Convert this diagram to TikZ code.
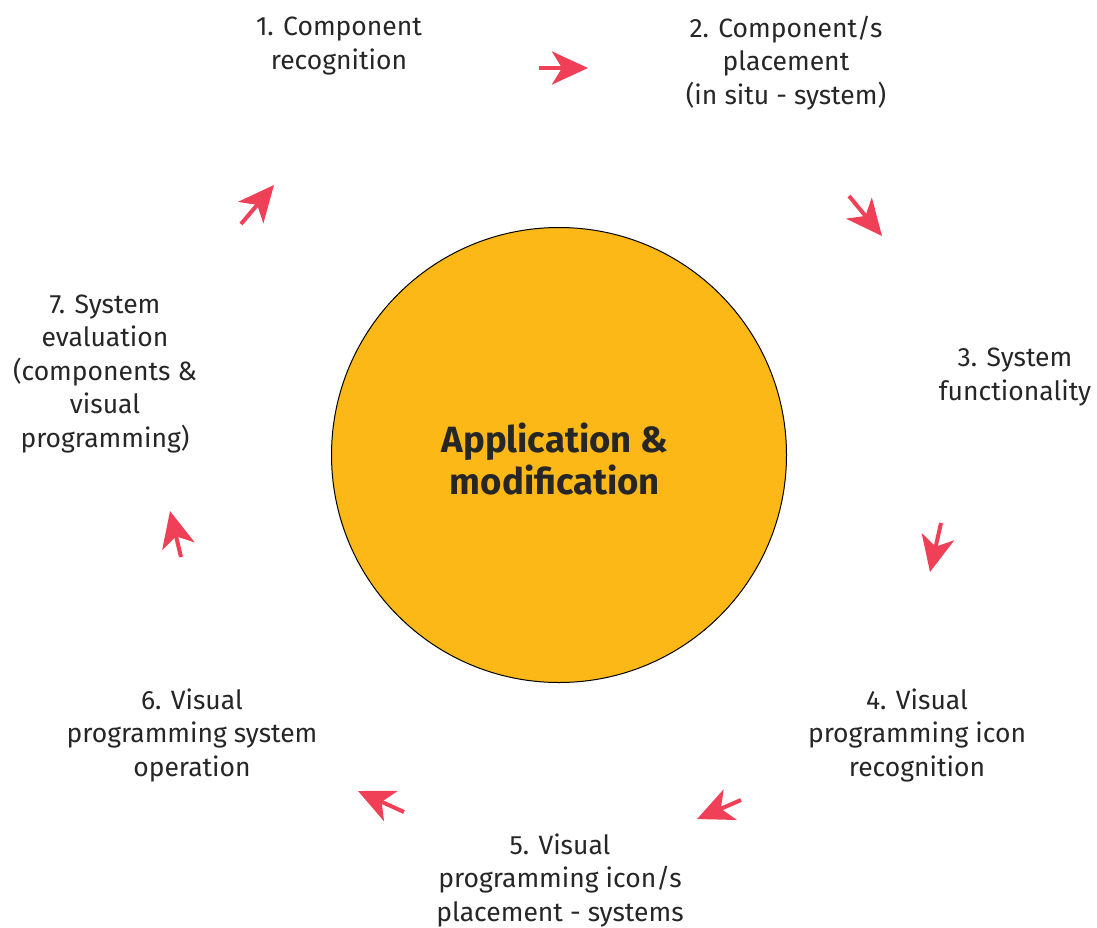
\documentclass[tikz,border=0pt]{standalone}
\usepackage{fontspec}
\setmainfont{Fira Sans}
\usetikzlibrary{arrows.meta}
\definecolor{hubfill}{HTML}{FBB817}
\definecolor{arrred}{HTML}{EF4058}
\tikzset{
  lbl/.style={align=center, font=\fontsize{26.5}{33.5}\selectfont, text=black!85, inner sep=0pt},
  cyc/.style={draw=arrred, line width=4pt, -{Stealth[length=36pt, width=33pt, inset=10pt]}},
}
\begin{document}
\begin{tikzpicture}[x=1pt,y=-1pt]
\useasboundingbox (0,0) rectangle (1097,927);
\node[circle, draw=black, line width=1pt, fill=hubfill, minimum size=455pt, inner sep=0pt] (hub) at (559,455) {};
\node[align=center, font=\fontsize{36.5}{42}\selectfont\bfseries, text=black!85, inner sep=0pt] (hubt) at (555,459) {Application \&\\modification};
\node[lbl] (s1) at (339,46) {1. Component\\recognition};
\node[lbl] (s2) at (786,63) {2. Component/s\\placement\\(in situ - system)};
\node[lbl] (s3) at (1015,377) {3. System\\functionality};
\node[lbl] (s4) at (917,735) {4. Visual\\programming icon\\recognition};
\node[lbl] (s5) at (560,880) {5. Visual\\programming icon/s\\placement - systems};
\node[lbl] (s6) at (192,735) {6. Visual\\programming system\\operation};
\node[lbl] (s7) at (105,374) {7. System\\evaluation\\(components \&\\visual\\programming)};
\coordinate (a1s) at (539,68); \coordinate (a1e) at (588,68);
\coordinate (a2s) at (849,196); \coordinate (a2e) at (882,236);
\coordinate (a3s) at (941,523); \coordinate (a3e) at (930,572);
\coordinate (a4s) at (741,800); \coordinate (a4e) at (697,819);
\coordinate (a5s) at (404,812); \coordinate (a5e) at (358,791);
\coordinate (a6s) at (181,557); \coordinate (a6e) at (170,511);
\coordinate (a7s) at (241,224); \coordinate (a7e) at (274,185);
\draw[cyc] (a1s) -- (a1e);
\draw[cyc] (a2s) -- (a2e);
\draw[cyc] (a3s) -- (a3e);
\draw[cyc] (a4s) -- (a4e);
\draw[cyc] (a5s) -- (a5e);
\draw[cyc] (a6s) -- (a6e);
\draw[cyc] (a7s) -- (a7e);
\end{tikzpicture}
\end{document}
